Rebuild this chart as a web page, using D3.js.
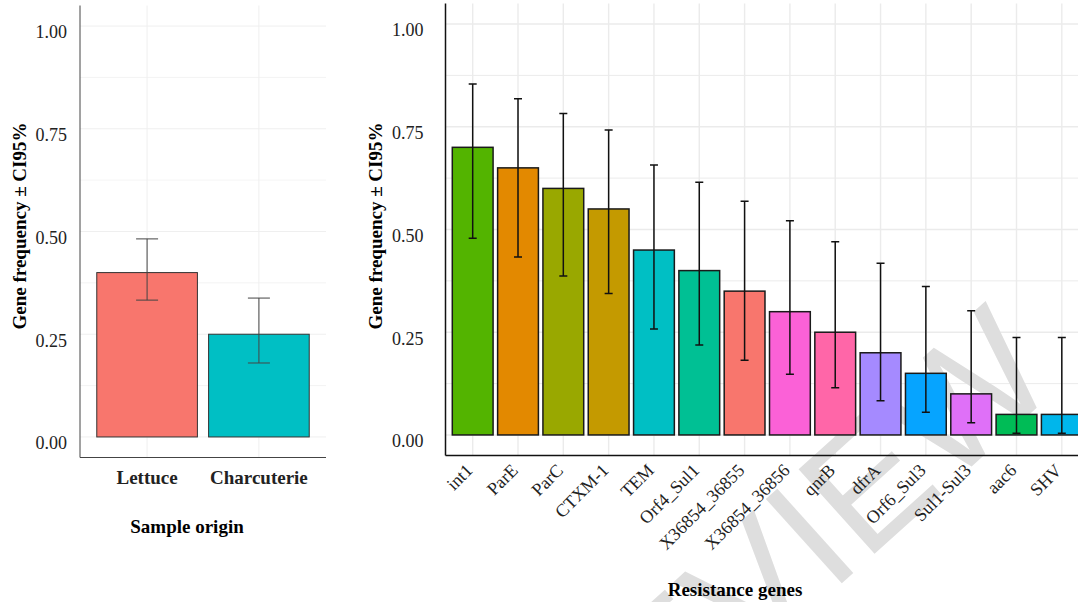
<!DOCTYPE html>
<html lang="en">
<head>
<meta charset="UTF-8">
<title>Gene frequency by sample origin and resistance gene</title>
<style>
  body { margin: 0; background: #fff; }
  svg { display: block; font-family: 'Liberation Serif', 'Times New Roman', serif; }
</style>
</head>
<body>
<svg id="chart"></svg>
<script src="https://d3js.org/d3.v7.min.js"></script>
<script>
// data
const originCats = ['Lettuce', 'Charcuterie'];
const originFreq = [0.40, 0.25];
const originLow = [0.333, 0.180];
const originHigh = [0.482, 0.338];

const geneCats = ['int1', 'ParE', 'ParC', 'CTXM-1', 'TEM', 'Orf4_Sul1', 'X36854_36855',
  'X36854_36856', 'qnrB', 'dfrA', 'Orf6_Sul3', 'Sul1-Sul3', 'aac6', 'SHV'];
const geneFreq = [0.70, 0.65, 0.60, 0.55, 0.45, 0.40, 0.35, 0.30, 0.25, 0.20, 0.15, 0.10, 0.05, 0.05];
const geneLow = [0.479, 0.433, 0.387, 0.344, 0.258, 0.219, 0.182, 0.148, 0.115, 0.083, 0.055, 0.030, 0.004, 0.004];
const geneHigh = [0.854, 0.818, 0.782, 0.742, 0.657, 0.615, 0.569, 0.521, 0.470, 0.418, 0.361, 0.302, 0.237, 0.237];

const yTicks = [0, 0.25, 0.5, 0.75, 1];
const yMinor = [0.125, 0.375, 0.625, 0.875];

const originPalette = ['#F8766D', '#00BFC4'];
const genePalette = ['#53B400', '#E38900', '#99A800', '#C49A00', '#00BFC4', '#00C094', '#F8766D',
  '#FB61D7', '#FF66A8', '#A58AFF', '#06A4FF', '#DF70F8', '#00BC56', '#00B6EB'];

const width = 1078, height = 602;
const svg = d3.select('#chart').attr('width', width).attr('height', height);

const yTitle = 'Gene frequency \u00b1 CI95%';
const fmt = d3.format('.2f');

function panel(opts) {
  const g = svg.append('g');
  const x = d3.scaleBand().domain(opts.cats).range([opts.left, opts.right])
    .paddingInner(0).paddingOuter(0.1);
  const y = d3.scaleLinear().domain([-0.05, 1.05]).range([opts.bottom, opts.top]);
  const color = d3.scaleOrdinal().domain(opts.cats).range(opts.palette);
  const bw = x.bandwidth();
  const cx = d => x(d) + bw / 2;

  // grid
  g.append('g').selectAll('line.minor').data(yMinor).join('line')
    .attr('x1', opts.left).attr('x2', opts.right)
    .attr('y1', d => y(d)).attr('y2', d => y(d))
    .attr('stroke', opts.gridColor).attr('stroke-width', opts.gridWidth * 0.7);
  g.append('g').selectAll('line.major').data(yTicks).join('line')
    .attr('x1', opts.left).attr('x2', opts.right)
    .attr('y1', d => y(d)).attr('y2', d => y(d))
    .attr('stroke', opts.gridColor).attr('stroke-width', opts.gridWidth);
  g.append('g').selectAll('line.v').data(opts.cats).join('line')
    .attr('x1', cx).attr('x2', cx)
    .attr('y1', opts.top).attr('y2', opts.bottom)
    .attr('stroke', opts.gridColor).attr('stroke-width', opts.gridWidth);

  if (opts.beforeBars) opts.beforeBars(g);

  // bars
  g.append('g').selectAll('rect').data(opts.cats).join('rect')
    .attr('x', d => cx(d) - bw * 0.45)
    .attr('width', bw * 0.9)
    .attr('y', (d, i) => y(opts.values[i]))
    .attr('height', (d, i) => y(0) - y(opts.values[i]))
    .attr('fill', d => color(d))
    .attr('stroke', opts.barStroke).attr('stroke-width', opts.barStrokeWidth);

  // error bars
  const eb = g.append('g').attr('stroke', opts.errColor).attr('stroke-width', opts.errWidth)
    .attr('fill', 'none');
  opts.cats.forEach((c, i) => {
    const xc = cx(c);
    const hw = opts.capHalf;
    eb.append('path').attr('d',
      `M${xc - hw},${y(opts.high[i])}H${xc + hw}M${xc},${y(opts.high[i])}V${y(opts.low[i])}` +
      `M${xc - hw},${y(opts.low[i])}H${xc + hw}`);
  });

  // axis lines
  g.append('line').attr('x1', opts.left).attr('x2', opts.left)
    .attr('y1', opts.top).attr('y2', opts.bottom)
    .attr('stroke', opts.axisColor).attr('stroke-width', opts.axisWidth);
  g.append('line').attr('x1', opts.left).attr('x2', opts.right)
    .attr('y1', opts.bottom).attr('y2', opts.bottom)
    .attr('stroke', opts.axisColor).attr('stroke-width', opts.axisWidth);

  // y labels
  const yAxis = g.append('g').attr('transform', `translate(${opts.left},0)`)
    .call(d3.axisLeft(y).tickValues(yTicks).tickFormat(fmt).tickSize(0).tickPadding(opts.yPad));
  yAxis.select('.domain').remove();
  yAxis.selectAll('text').attr('font-family', "'Liberation Serif', serif")
    .attr('font-size', 18).attr('fill', '#222').attr('dy', '0.66em');

  // x labels
  const xAxis = g.append('g').attr('transform', `translate(0,${opts.bottom})`)
    .call(d3.axisBottom(x).tickSize(0).tickPadding(0));
  xAxis.select('.domain').remove();
  opts.xLabels(xAxis.selectAll('text').attr('font-family', "'Liberation Serif', serif"));

  // y title
  svg.append('text')
    .attr('transform', `translate(${opts.yTitleX},${opts.yTitleY}) rotate(-90)`)
    .attr('text-anchor', 'middle').attr('dominant-baseline', 'central')
    .attr('font-weight', 'bold').attr('font-size', 19).attr('fill', '#000')
    .text(yTitle);

  svg.append('text')
    .attr('x', opts.xTitleX).attr('y', opts.xTitleY)
    .attr('text-anchor', 'middle')
    .attr('font-weight', 'bold').attr('font-size', 19).attr('fill', '#000')
    .text(opts.xTitle);
}

// left panel: sample origin
panel({
  cats: originCats, values: originFreq, low: originLow, high: originHigh,
  palette: originPalette,
  left: 80, right: 326, top: 5.5, bottom: 457.5, yPad: 13,
  gridColor: '#efefef', gridWidth: 1,
  barStroke: '#333', barStrokeWidth: 1,
  errColor: '#444', errWidth: 1, capHalf: 11,
  axisColor: '#444', axisWidth: 1,
  xLabels: t => t.attr('font-size', 19).attr('font-weight', 'bold').attr('fill', '#222')
    .attr('dy', '1.37em'),
  yTitleX: 19, yTitleY: 226,
  xTitle: 'Sample origin', xTitleX: 187, xTitleY: 533
});

// right panel: resistance genes
panel({
  cats: geneCats, values: geneFreq, low: geneLow, high: geneHigh,
  palette: genePalette,
  left: 445.5, right: 1089, top: 3.5, bottom: 455.5, yPad: 22,
  gridColor: '#ebebeb', gridWidth: 1.4,
  barStroke: '#1a1a1a', barStrokeWidth: 1.5,
  errColor: '#111', errWidth: 1.5, capHalf: 4,
  axisColor: '#111', axisWidth: 1.5,
  beforeBars: g => {
    // faint PREVIEW watermark sitting behind the bars
    g.append('text')
      .attr('transform', 'translate(1062,385) rotate(-42)')
      .attr('text-anchor', 'end')
      .attr('font-family', "'Liberation Sans', Arial, sans-serif")
      .attr('font-size', 165).attr('fill', '#dedede')
      .text('PREVIEW');
  },
  xLabels: t => t.attr('font-size', 18).attr('fill', '#222')
    .attr('text-anchor', 'end').attr('dy', null).attr('y', 0)
    .attr('transform', 'translate(1,16) rotate(-45)'),
  yTitleX: 375, yTitleY: 226,
  xTitle: 'Resistance genes', xTitleX: 735, xTitleY: 596
});
</script>
</body>
</html>
